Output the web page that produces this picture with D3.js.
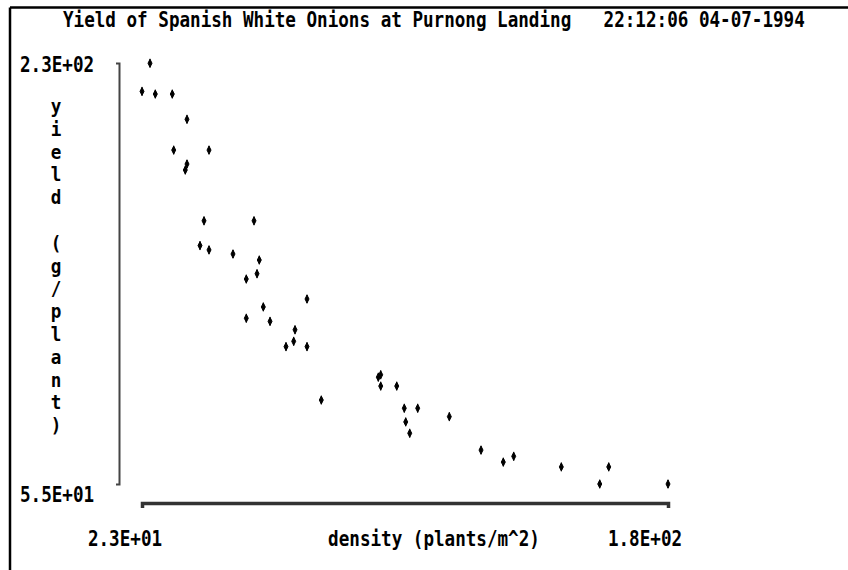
<!DOCTYPE html>
<html><head><meta charset="utf-8">
<script src="https://cdn.jsdelivr.net/npm/d3@7"></script>
<style>
html,body{margin:0;padding:0;background:#fff;}
svg{display:block;}
text{font-family:"DejaVu Sans Mono",monospace;font-weight:bold;font-size:17.6px;fill:#000;}
</style>
</head><body>
<svg id="c" width="848" height="570"></svg>
<script>
// ---- data ----
const density = [25.39, 23.00, 26.97, 32.04, 36.43, 32.46, 43.00, 36.43, 35.92, 41.51,
  56.43, 40.31, 43.00, 50.16, 58.01, 54.13, 57.33, 72.25, 59.21, 54.13,
  61.21, 68.67, 68.28, 65.98, 72.25, 76.52, 93.53, 94.25, 94.25, 99.03,
  101.29, 105.29, 101.71, 102.91, 114.73, 124.19, 130.84, 133.95, 148.16, 159.62,
  162.31, 180.00];
const yieldGP = [229.9, 218.2, 217.1, 217.1, 206.6, 193.8, 193.8, 188.0, 185.5, 164.4,
  164.4, 154.1, 152.3, 150.6, 148.1, 140.2, 142.4, 131.9, 128.6, 123.9,
  122.6, 119.1, 114.3, 112.1, 112.1, 89.9, 99.4, 100.4, 95.7, 95.7,
  86.5, 86.5, 80.8, 76.1, 83.0, 69.1, 64.1, 66.5, 62.1, 55.0,
  62.1, 55.0];
const xDomain = [23, 180];
const yDomain = [55, 230];
const xTickLabels = ["2.3E+01", "1.8E+02"];
const yTickLabels = ["2.3E+02", "5.5E+01"];
const titleText = "Yield of Spanish White Onions at Purnong Landing";
const stampText = "22:12:06 04-07-1994";
const xTitle = "density (plants/m^2)";
const yTitle = "yield (g/plant)";

// ---- layout ----
const CW = 10.6;      // character cell width
const ROW = 22.8;     // character row height
const SY = 1.25;      // vertical stretch of the DOS-like font
const SYV = 1.08;     // stretch for the stacked y-title letters
const svg = d3.select("#c");

const x = d3.scaleLinear().domain(xDomain).range([142, 668]);
const y = d3.scaleLinear().domain(yDomain).range([484, 63]);

// frame lines (top and left)
svg.append("path").attr("d", "M10,7.5H848M10,7.5V570")
  .attr("stroke", "#000").attr("stroke-width", 2.5).attr("fill", "none");

function txt(s, px, py, anchor, sy) {
  return svg.append("text")
    .attr("transform", `translate(${px},${py}) scale(1,${sy || SY})`)
    .attr("text-anchor", anchor || "start")
    .text(s);
}

// title + time stamp
txt(titleText, 63, 27);
txt(stampText, 805 - stampText.length * CW, 27);

// y axis
const gy = svg.append("g").attr("transform", "translate(119,0)")
  .call(d3.axisLeft(y).tickValues([]).tickSizeOuter(3));
gy.select(".domain").attr("stroke", "#444").attr("stroke-width", 2);

// x axis
const gx = svg.append("g").attr("transform", "translate(0,503)")
  .call(d3.axisBottom(x).tickValues([]).tickSizeOuter(5));
gx.select(".domain").attr("stroke", "#333").attr("stroke-width", 3.5);

// tick labels
txt(yTickLabels[0], 20, y(yDomain[1]) + 9);
txt(yTickLabels[1], 20, y(yDomain[0]) + 18);
txt(xTickLabels[0], x(xDomain[0]) - 17, 546, "middle");
txt(xTickLabels[1], x(xDomain[1]) - 23, 546, "middle");

// axis titles
txt(xTitle, 434, 546, "middle");
yTitle.split("").forEach((ch, i) => {
  if (ch !== " ") txt(ch, 56, 113 + i * ROW, "middle", SYV);
});

// points: small diamond-plus marks
const pts = density.map((d, i) => [d, yieldGP[i]]);
svg.append("g").selectAll("path.pt").data(pts).join("path")
  .attr("class", "pt")
  .attr("d", d => {
    const cx = x(d[0]), cy = y(d[1]);
    return `M${cx},${cy - 4}L${cx + 2},${cy}L${cx},${cy + 4}L${cx - 2},${cy}Z` +
           `M${cx},${cy - 4.5}V${cy + 4.5}`;
  })
  .attr("fill", "#000").attr("stroke", "#000").attr("stroke-width", 1);
</script>
</body></html>
